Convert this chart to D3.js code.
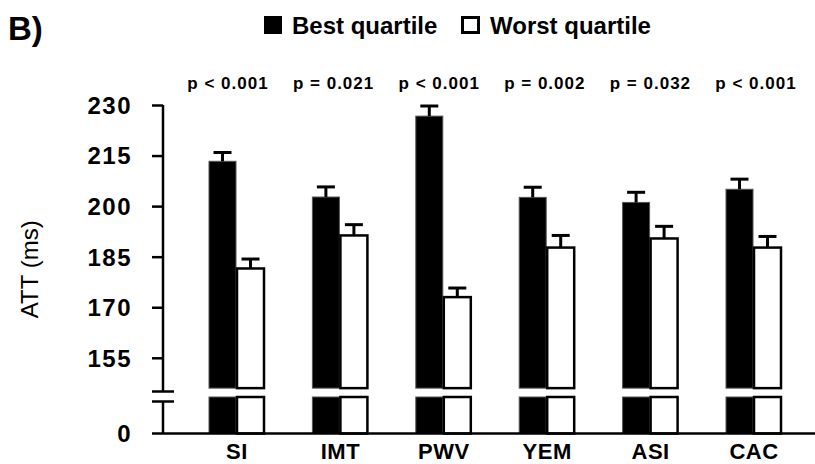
<!DOCTYPE html>
<html>
<head>
<meta charset="utf-8">
<script src="https://cdn.jsdelivr.net/npm/d3@7"></script>
<style>
  body { margin: 0; background: #fff; }
  text { font-family: "Liberation Sans", Arial, sans-serif; fill: #000; }
</style>
</head>
<body>
<svg id="chart" width="815" height="464"></svg>
<script>
// ATT by quartile
var categories = ["SI", "IMT", "PWV", "YEM", "ASI", "CAC"];
var bestValues = [213.3, 202.7, 226.7, 202.6, 201.1, 205.0];
var bestErrors = [2.6, 3.0, 3.0, 3.0, 3.0, 3.0];
var worstValues = [181.5, 191.3, 173.0, 187.7, 190.4, 187.7];
var worstErrors = [2.8, 3.2, 2.7, 3.6, 3.6, 3.3];
var pLabels = ["p < 0.001", "p = 0.021", "p < 0.001", "p = 0.002", "p = 0.032", "p < 0.001"];
var upperTicks = [155, 170, 185, 200, 215, 230];
var lowerTicks = [0];
var seriesNames = ["Best quartile", "Worst quartile"];

var svg = d3.select("#chart");

var x = d3.scalePoint().domain(categories).range([237, 754]);
var xP = d3.scalePoint().domain(categories).range([228, 756]);
var yUp = d3.scaleLinear().domain([145, 230]).range([391.5, 105]);
var yLow = d3.scaleLinear().domain([0, 10]).range([433.5, 397]);

var axisX = 163;
var breakHi = yUp.range()[0];
var breakLo = breakHi + 10;
var barCut = 146; // upper segment of bars stops here

var rows = categories.map(function(c, i){
	return {cat: c, best: bestValues[i], bestErr: bestErrors[i],
		worst: worstValues[i], worstErr: worstErrors[i], p: pLabels[i]};
});

// panel letter
svg.append("text").attr("x", 8).attr("y", 40)
	.style("font-size", "33px").style("font-weight", "bold").text("B)");

// legend
var legend = svg.append("g");
legend.append("rect").attr("x", 264).attr("y", 16).attr("width", 18).attr("height", 18)
	.attr("fill", "#000");
legend.append("text").attr("x", 292).attr("y", 34)
	.style("font-size", "24px").style("font-weight", "bold").text(seriesNames[0]);
legend.append("rect").attr("x", 462.5).attr("y", 17.5).attr("width", 16).attr("height", 15)
	.attr("fill", "#fff").attr("stroke", "#000").attr("stroke-width", 3);
legend.append("text").attr("x", 490).attr("y", 34)
	.style("font-size", "24px").style("font-weight", "bold").text(seriesNames[1]);

// p values
svg.selectAll(".pval").data(rows).enter().append("text")
	.attr("class", "pval")
	.attr("x", function(d){ return xP(d.cat); })
	.attr("y", 89)
	.attr("text-anchor", "middle")
	.style("font-size", "17px").style("font-weight", "bold")
	.style("letter-spacing", "1px")
	.text(function(d){ return d.p; });

// y axis (upper part)
var gUp = svg.append("g").attr("transform", "translate(" + axisX + ",0)")
	.call(d3.axisLeft(yUp).tickValues(upperTicks).tickSize(11).tickSizeOuter(0).tickPadding(20));
gUp.select(".domain").remove();
gUp.selectAll(".tick line").attr("stroke", "#000").attr("stroke-width", 2.5);
gUp.selectAll(".tick text").style("font-size", "24px").style("font-weight", "bold")
	.style("font-family", "'Liberation Sans', Arial, sans-serif")
	.style("letter-spacing", "1.5px").attr("dy", "0.35em");

// y axis (lower part)
var gLow = svg.append("g").attr("transform", "translate(" + axisX + ",0)")
	.call(d3.axisLeft(yLow).tickValues(lowerTicks).tickSize(11).tickSizeOuter(0).tickPadding(20));
gLow.select(".domain").remove();
gLow.selectAll(".tick line").remove();
gLow.selectAll(".tick text").style("font-size", "24px").style("font-weight", "bold")
	.style("font-family", "'Liberation Sans', Arial, sans-serif")
	.style("letter-spacing", "1.5px").attr("dy", "0.35em");

// axis lines + break marks
var axisLines = [
	{x1: axisX, y1: yUp(230), x2: axisX, y2: breakHi},
	{x1: axisX, y1: breakLo, x2: axisX, y2: yLow(0)},
	{x1: axisX - 11, y1: breakHi, x2: axisX + 11, y2: breakHi},
	{x1: axisX - 11, y1: breakLo, x2: axisX + 11, y2: breakLo}
];
svg.selectAll(".axline").data(axisLines).enter().append("line")
	.attr("class", "axline")
	.attr("x1", function(d){ return d.x1; }).attr("y1", function(d){ return d.y1; })
	.attr("x2", function(d){ return d.x2; }).attr("y2", function(d){ return d.y2; })
	.attr("stroke", "#000").attr("stroke-width", 2.5);

// bars: each split into upper and lower segments
var bw = 29;
var segs = [];
rows.forEach(function(d){
	segs.push({cx: x(d.cat) - bw / 2, v: d.best, err: d.bestErr, fill: "#000"});
	segs.push({cx: x(d.cat) + bw / 2 - 1, v: d.worst, err: d.worstErr, fill: "#fff"});
});

var bars = svg.selectAll(".bar").data(segs).enter().append("g").attr("class", "bar");
bars.append("rect")
	.attr("x", function(d){ return d.cx - bw / 2 + 1; })
	.attr("width", bw - 2)
	.attr("y", function(d){ return yUp(d.v); })
	.attr("height", function(d){ return yUp(barCut) - yUp(d.v); })
	.attr("fill", function(d){ return d.fill; })
	.attr("stroke", function(d){ return d.fill === "#000" ? "#555" : "#000"; })
	.attr("stroke-width", function(d){ return d.fill === "#000" ? 1 : 2.5; });
bars.append("rect")
	.attr("x", function(d){ return d.cx - bw / 2 + 1; })
	.attr("width", bw - 2)
	.attr("y", yLow(10))
	.attr("height", yLow(0) - yLow(10))
	.attr("fill", function(d){ return d.fill; })
	.attr("stroke", function(d){ return d.fill === "#000" ? "#555" : "#000"; })
	.attr("stroke-width", function(d){ return d.fill === "#000" ? 1 : 2.5; });

// error bars
bars.append("line")
	.attr("x1", function(d){ return d.cx; }).attr("x2", function(d){ return d.cx; })
	.attr("y1", function(d){ return yUp(d.v); })
	.attr("y2", function(d){ return yUp(d.v + d.err); })
	.attr("stroke", "#000").attr("stroke-width", 3);
bars.append("line")
	.attr("x1", function(d){ return d.cx - 9; }).attr("x2", function(d){ return d.cx + 9; })
	.attr("y1", function(d){ return yUp(d.v + d.err); })
	.attr("y2", function(d){ return yUp(d.v + d.err); })
	.attr("stroke", "#000").attr("stroke-width", 3);

// x axis line drawn over the bar bottoms
svg.append("line").attr("x1", axisX - 11).attr("x2", 815)
	.attr("y1", yLow(0)).attr("y2", yLow(0))
	.attr("stroke", "#000").attr("stroke-width", 2.5);

// category labels
svg.selectAll(".cat").data(categories).enter().append("text")
	.attr("class", "cat")
	.attr("x", function(d){ return x(d); })
	.attr("y", 459)
	.attr("text-anchor", "middle")
	.style("font-size", "22px").style("font-weight", "bold")
	.style("letter-spacing", "0.5px")
	.text(function(d){ return d; });

// y label
svg.append("text")
	.attr("transform", "translate(38," + (yUp(230) + yLow(0)) / 2 + ") rotate(-90)")
	.attr("text-anchor", "middle")
	.style("font-size", "24px")
	.text("ATT (ms)");
</script>
</body>
</html>
